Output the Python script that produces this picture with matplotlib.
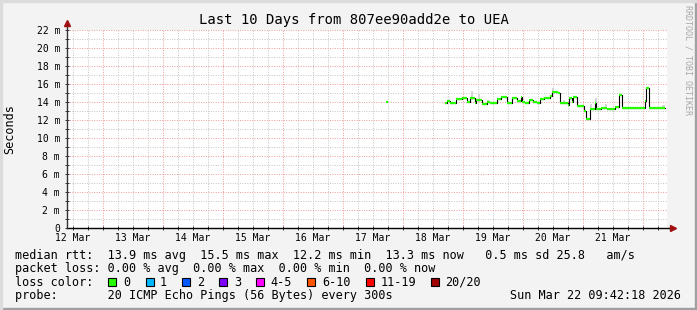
import numpy as np
import matplotlib
matplotlib.use('Agg')
import matplotlib.pyplot as plt
from matplotlib.patches import Rectangle

# hours since graph start (Thu Mar 12 09:42:18 2026), 10 days wide
span_h = 240.0
midnight0 = 14.295  # first midnight (Mar 13 00:00) after start

day_labels = ['12 Mar', '13 Mar', '14 Mar', '15 Mar', '16 Mar',
              '17 Mar', '18 Mar', '19 Mar', '20 Mar', '21 Mar']

# median rtt (ms), step changes: start hour -> value
rtt_h = [151.2, 151.9, 153.2, 155.6, 157.9, 159.9, 161.2, 163.2, 163.6, 165.9,
         167.9, 169.2, 171.9, 173.5, 175.9, 178.0, 179.9, 181.5, 181.9, 183.2,
         184.9, 186.3, 188.1, 189.2, 190.8, 193.2, 193.9, 196.5, 197.2, 200.3,
         200.9, 201.9, 202.5, 204.1, 206.9, 207.6, 209.2, 211.1, 211.6, 213.5,
         216.1, 219.2, 220.9, 222.0, 231.1, 231.6, 232.9]
rtt_ms = [13.9, 14.15, 13.9, 14.3, 14.5, 14.0, 14.45, 13.85, 14.25, 13.8,
          14.0, 13.85, 14.3, 14.6, 13.9, 14.45, 14.15, 14.6, 14.0, 13.85,
          14.25, 14.0, 13.85, 14.3, 14.4, 14.65, 15.1, 15.0, 13.9, 13.7,
          14.4, 13.95, 14.6, 13.55, 13.0, 12.15, 13.25, 13.9, 13.2, 13.35,
          13.25, 13.4, 14.75, 13.35, 14.15, 15.55, 13.35]
rtt_end = 239.2

# single early sample
lone_h = [127.4]
lone_end = [128.2]
lone_ms = [14.05]

# smoke (spread of pings)
smoke_h = [162.0, 164.8, 168.4, 194.5, 198.8, 201.2, 209.6, 211.6, 215.6, 238.6]
smoke_lo = [14.2, 14.0, 13.85, 15.1, 13.9, 14.2, 13.25, 13.9, 13.25, 13.35]
smoke_hi = [15.25, 14.9, 14.2, 15.5, 14.2, 14.6, 13.8, 14.4, 13.8, 13.7]

loss_labels = ['0', '1', '2', '3', '4-5', '6-10', '11-19', '20/20']
loss_colors = ['#26ff00', '#00b8ff', '#0059ff', '#7e00ff', '#ff00ff',
               '#ff5500', '#ff0000', '#a10000']
loss_box_x = [108, 146, 182, 219, 256, 307, 366, 431]
loss_text_x = [123, 160, 197, 234, 270, 322, 381, 445]

W, H = 697, 310
mono = 'DejaVu Sans Mono'

fig = plt.figure(figsize=(W / 100, H / 100), dpi=100)
fig.patch.set_facecolor('#f3f3f3')


def fx(px):
    return px / W


def fy(py):
    return 1 - py / H


# 3d frame
fig.add_artist(Rectangle((0, 0), 1, 2 / H, transform=fig.transFigure, color='#a0a0a0', zorder=-1))
fig.add_artist(Rectangle((1 - 2 / W, 0), 2 / W, 1, transform=fig.transFigure, color='#a0a0a0', zorder=-1))
fig.add_artist(Rectangle((0, 1 - 2 / H), 1, 2 / H, transform=fig.transFigure, color='#dcdcdc', zorder=-1))
fig.add_artist(Rectangle((0, 0), 2 / W, 1, transform=fig.transFigure, color='#dcdcdc', zorder=-1))

ax = fig.add_axes([fx(67), fy(228), 600 / W, 198 / H])
ax.set_facecolor('white')
ax.set_xlim(0, span_h)
ax.set_ylim(0, 22)
for s in ax.spines.values():
    s.set_visible(False)

# grid
majors = [midnight0 + 24 * i for i in range(10)]
minors = [midnight0 - 12 + 6 * i for i in range(41)]
minors = [m for m in minors if 0 < m < span_h and min(abs(m - j) for j in majors) > 0.1]
ax.set_xticks(majors)
ax.set_xticks(minors, minor=True)
ax.set_xticklabels([])
ax.set_yticks(range(0, 23, 2))
ax.set_yticks(range(1, 22, 2), minor=True)
ax.set_yticklabels(['0'] + ['%d m' % v for v in range(2, 23, 2)], family=mono, fontsize=7)
ax.grid(True, which='major', color='#ee9a9a', linestyle=(0, (1, 1.5)), linewidth=0.7)
ax.grid(True, which='minor', color='#c4c4c4', linestyle=(0, (1, 1.5)), linewidth=0.7)
ax.set_axisbelow(True)
ax.tick_params(which='both', direction='inout', length=3, width=0.7, color='#333333')
ax.tick_params(axis='y', pad=3.5, labelcolor='black')

# axes with arrows
ax.plot([0, 1.01], [0, 0], transform=ax.transAxes, color='black', lw=1, clip_on=False, zorder=5)
ax.plot([0, 0], [0, 1.035], transform=ax.transAxes, color='#333333', lw=1, clip_on=False, zorder=5)
ax.plot([1.01], [0], marker='>', ms=5, color='#a01010', transform=ax.transAxes, clip_on=False, zorder=6)
ax.plot([0], [1.035], marker='^', ms=5, color='#a01010', transform=ax.transAxes, clip_on=False, zorder=6)

# day labels at noon
for i, lab in enumerate(day_labels):
    ax.text(midnight0 - 12 + 24 * i, -12.7 / 9, lab, family=mono, fontsize=7,
            ha='center', va='baseline', transform=ax.transData, clip_on=False)

# smoke
ax.bar(smoke_h, np.array(smoke_hi) - np.array(smoke_lo), bottom=smoke_lo,
       width=0.9, color='#d6d6d6', zorder=2)

# median line
xs = rtt_h + [rtt_end]
vs = rtt_ms + [rtt_ms[-1]]
ax.step(xs, vs, where='post', color='black', lw=0.8, zorder=3)
ax.hlines(rtt_ms, rtt_h, rtt_h[1:] + [rtt_end], color='#26ff00', lw=1.6, zorder=4)
ax.hlines(lone_ms, lone_h, lone_end, color='#26ff00', lw=1.6, zorder=4)

# titles
fig.text(fx(354), fy(24), 'Last 10 Days from 807ee90add2e to UEA', family=mono,
         fontsize=10, ha='center', va='baseline')
fig.text(fx(10), fy(129), 'Seconds', family=mono, fontsize=8.5, rotation=90,
         ha='center', va='center')
fig.text(fx(688), fy(60), 'RRDTOOL / TOBI OETIKER', family=mono, fontsize=6,
         rotation=-90, ha='center', va='center', color='#a8a8a8')

# legend
fs = 8.5
fig.text(fx(15), fy(258.5),
         'median rtt:  13.9 ms avg  15.5 ms max  12.2 ms min  13.3 ms now   0.5 ms sd 25.8   am/s',
         family=mono, fontsize=fs, va='baseline')
fig.text(fx(15), fy(272),
         'packet loss: 0.00 % avg  0.00 % max  0.00 % min  0.00 % now',
         family=mono, fontsize=fs, va='baseline')
fig.text(fx(15), fy(285.6), 'loss color:', family=mono, fontsize=fs, va='baseline')
for bx, tx, lab, col in zip(loss_box_x, loss_text_x, loss_labels, loss_colors):
    fig.add_artist(Rectangle((fx(bx), fy(286)), 8 / W, 8 / H, transform=fig.transFigure,
                             facecolor=col, edgecolor='black', linewidth=0.8))
    fig.text(fx(tx), fy(285.6), lab, family=mono, fontsize=fs, va='baseline')
fig.text(fx(15), fy(299.2), 'probe:       20 ICMP Echo Pings (56 Bytes) every 300s',
         family=mono, fontsize=fs, va='baseline')
fig.text(fx(681), fy(299.2), 'Sun Mar 22 09:42:18 2026', family=mono, fontsize=fs,
         va='baseline', ha='right')

fig.savefig('out.png', dpi=100, facecolor=fig.get_facecolor())
